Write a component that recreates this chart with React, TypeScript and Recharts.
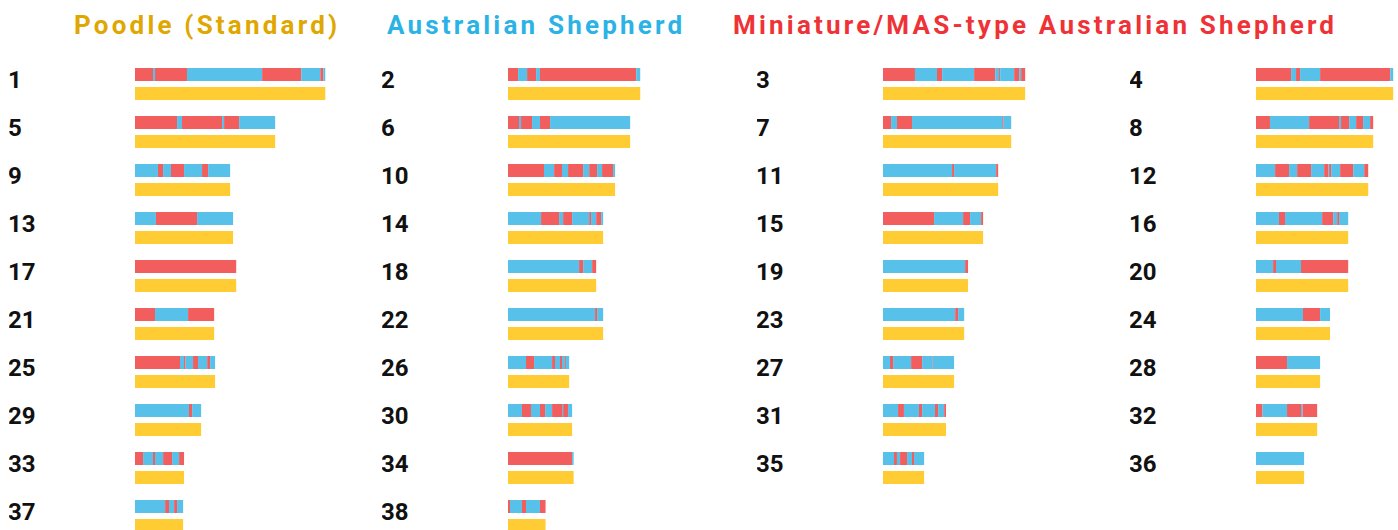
import { Bar, BarChart, Cell, XAxis, YAxis } from "recharts";

// ancestry colours
const RED = "#F25E5E"; // Miniature/MAS-type Australian Shepherd
const BLUE = "#58C1E9"; // Australian Shepherd
const YELLOW = "#FFCD33"; // Poodle (Standard)

const titles = ["Poodle (Standard)", "Australian Shepherd", "Miniature/MAS-type Australian Shepherd"];
const titleColors = ["#DFA700", "#2BB3E6", "#EE3236"];

// chromosome lengths (Mb)
const chromosomeLengths = [
  122.6, 85.2, 91.6, 88.4, 90.3, 78.7, 82.6, 75.5, 61.3, 69.0,
  74.2, 72.3, 63.2, 61.3, 64.5, 59.4, 65.2, 56.8, 54.8, 59.4,
  51.0, 61.3, 52.3, 47.7, 51.6, 39.4, 45.8, 41.3, 42.6, 41.3,
  40.6, 39.4, 31.6, 42.3, 26.5, 31.0, 31.0, 24.2
];

// ancestry of the first segment on each chromosome: M = mini/MAS, A = aussie
const firstAncestry = [
  "M", "M", "M", "M", "M", "M", "M", "M", "A", "M",
  "A", "A", "A", "A", "M", "A", "M", "A", "A", "A",
  "M", "A", "A", "A", "M", "A", "A", "M", "A", "A",
  "A", "M", "M", "M", "A", "A", "A", "M"
];

// switch points (Mb) where the ancestry flips along the chromosome
const breakpoints: number[][] = [
  [11.6, 12.9, 33.5, 81.9, 107.1, 119.4, 121.3],
  [6.5, 12.3, 18.1, 20.6, 82.6],
  [20.6, 34.8, 38.1, 58.7, 72.3, 74.8, 75.5, 84.5, 87.7, 89.0],
  [22.6, 25.8, 28.4, 41.3, 86.5],
  [27.1, 30.3, 56.1, 57.4, 67.1],
  [7.1, 8.4, 15.5, 20.6, 27.1],
  [5.2, 9.0, 18.7, 76.8, 77.4],
  [9.0, 34.2, 53.5, 54.8, 60.0, 64.5, 69.0, 73.5],
  [14.8, 18.1, 23.2, 31.6, 43.2, 47.1],
  [23.2, 29.7, 34.8, 38.7, 48.4, 52.3, 57.4, 60.6, 67.7],
  [44.5, 45.8, 72.9],
  [12.3, 21.3, 26.5, 35.5, 43.9, 46.5, 47.1, 48.4, 54.2, 62.6, 69.7],
  [13.5, 40.0],
  [21.3, 32.9, 35.5, 41.3, 52.3, 53.5, 56.8, 60.0],
  [32.9, 51.6, 56.1, 63.2],
  [14.8, 18.7, 42.6, 49.7, 52.3, 53.5],
  [],
  [45.8, 48.4, 54.2],
  [52.9],
  [11.0, 12.9, 29.0],
  [12.9, 34.2],
  [56.1, 57.4],
  [46.5, 48.4],
  [30.3, 41.3],
  [29.0, 31.6, 32.6, 37.4, 40.6, 46.5, 48.4],
  [11.6, 16.8, 28.4, 30.3, 33.5, 34.8, 36.8, 37.4],
  [4.5, 6.5, 18.1, 25.2, 31.6, 32.0],
  [20.0],
  [34.8, 36.8],
  [9.0, 14.8, 20.6, 23.9, 28.4, 34.8, 35.5, 38.7],
  [9.7, 13.5, 23.2, 25.2, 33.5, 35.5, 39.4],
  [4.2, 20.0, 29.0, 30.0],
  [5.2, 11.6, 12.9, 18.1, 23.9, 28.4],
  [41.3],
  [7.1, 9.0, 11.0, 15.5, 18.7, 20.0],
  [],
  [19.4, 21.9, 25.2, 27.1],
  [1.3, 9.0, 11.6, 20.6]
];

const MAX_SEGS = 12;
const segKeys = Array.from({ length: MAX_SEGS }, (_, i) => `s${i}`);

type Row = { chr: string; poodle: number; colors: string[]; [k: string]: any };

function buildRow(idx: number): Row {
  const len = chromosomeLengths[idx];
  const edges = [0, ...breakpoints[idx], len];
  const first = firstAncestry[idx] === "M" ? RED : BLUE;
  const other = first === RED ? BLUE : RED;
  const row: Row = { chr: String(idx + 1), poodle: len, colors: [] };
  for (let i = 0; i < edges.length - 1; i++) {
    row[`s${i}`] = +(edges[i + 1] - edges[i]).toFixed(2);
    row.colors.push(i % 2 === 0 ? first : other);
  }
  return row;
}

const columns = [0, 1, 2, 3].map((c) =>
  chromosomeLengths.map((_, i) => i).filter((i) => i % 4 === c).map(buildRow)
);

const colLeft = [9, 382, 757, 1130];
const titleLeft = [74, 387, 733];

const ChrTick = (props: any) => {
  const { y, payload } = props;
  return (
    <text x={-1} y={y + 4} fontFamily="Roboto" fontWeight={700} fontSize={24} fill="#111">
      {payload.value}
    </text>
  );
};

function Column({ rows, left }: { rows: Row[]; left: number }) {
  return (
    <div style={{ position: "absolute", left, top: 0 }}>
      <BarChart
        width={320}
        height={60 + rows.length * 48}
        data={rows}
        layout="vertical"
        margin={{ top: 60, right: 0, bottom: 0, left: 0 }}
        barSize={13}
        barGap={6}
      >
        <XAxis type="number" domain={[0, 125]} hide allowDataOverflow />
        <YAxis
          type="category"
          dataKey="chr"
          width={126}
          axisLine={false}
          tickLine={false}
          tick={<ChrTick />}
        />
        {segKeys.map((k, i) => (
          <Bar key={k} dataKey={k} stackId="ancestry" isAnimationActive={false}>
            {rows.map((r) => (
              <Cell key={r.chr} fill={r.colors[i] ?? RED} />
            ))}
          </Bar>
        ))}
        <Bar dataKey="poodle" fill={YELLOW} isAnimationActive={false} />
      </BarChart>
    </div>
  );
}

export default function App() {
  return (
    <div
      style={{
        position: "absolute",
        left: 0,
        top: 0,
        width: 1398,
        height: 530,
        overflow: "hidden",
        background: "#fff"
      }}
    >
      <svg width={1398} height={50} style={{ position: "absolute", left: 0, top: 0 }}>
        {titles.map((t, i) => (
          <text
            key={t}
            x={titleLeft[i]}
            y={34}
            fontFamily="Roboto"
            fontWeight={700}
            fontSize={26}
            letterSpacing={3.2}
            fill={titleColors[i]}
          >
            {t}
          </text>
        ))}
      </svg>
      {columns.map((rows, c) => (
        <Column key={c} rows={rows} left={colLeft[c]} />
      ))}
    </div>
  );
}
